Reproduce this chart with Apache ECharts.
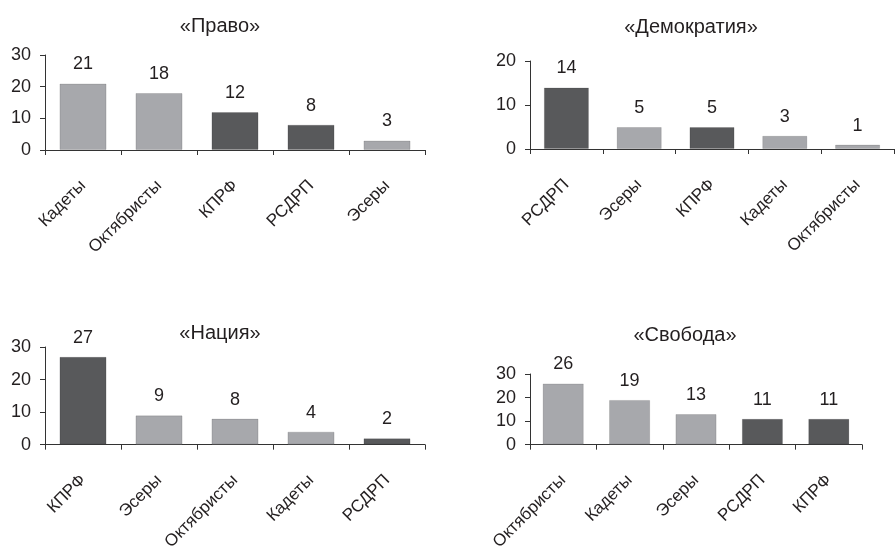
<!DOCTYPE html>
<html>
<head>
<meta charset="utf-8">
<script src="https://cdn.jsdelivr.net/npm/echarts@6/dist/echarts.min.js"></script>
<style>
html,body{margin:0;padding:0;background:#fff;}
#c{width:896px;height:553px;}
</style>
</head>
<body>
<div id="c"></div>
<script>
// Data
var titles = ['«Право»', '«Демократия»', '«Нация»', '«Свобода»'];
var pravoCats = ['Кадеты', 'Октябристы', 'КПРФ', 'РСДРП', 'Эсеры'];
var pravoVals = [21, 18, 12, 8, 3];
var demoCats = ['РСДРП', 'Эсеры', 'КПРФ', 'Кадеты', 'Октябристы'];
var demoVals = [14, 5, 5, 3, 1];
var naciyaCats = ['КПРФ', 'Эсеры', 'Октябристы', 'Кадеты', 'РСДРП'];
var naciyaVals = [27, 9, 8, 4, 2];
var svobodaCats = ['Октябристы', 'Кадеты', 'Эсеры', 'РСДРП', 'КПРФ'];
var svobodaVals = [26, 19, 13, 11, 11];
var darkParties = ['КПРФ', 'РСДРП'];
var yMax = [30, 20, 30, 30];

var FONT = 'Liberation Sans, Arial, sans-serif';
var LIGHT = '#a7a8ac', DARK = '#58595b';
var AXIS = '#333333';
var TEXT = '#231f20';

var grids = [
  {left: 45, top: 55, width: 380, height: 95},
  {left: 530, top: 61, width: 364, height: 88},
  {left: 45, top: 347, width: 380, height: 103},
  {left: 530, top: 374, width: 332, height: 78}
];
var titlePos = [
  {x: 215, y: 11},
  {x: 686, y: 12},
  {x: 215, y: 318},
  {x: 680, y: 320}
];
var cats = [pravoCats, demoCats, naciyaCats, svobodaCats];
var vals = [pravoVals, demoVals, naciyaVals, svobodaVals];

var chart = echarts.init(document.getElementById('c'));
var option = {
  animation: false,
  backgroundColor: '#fff',
  title: [], grid: [], xAxis: [], yAxis: [], series: []
};
for (var i = 0; i < 4; i++) {
  option.title.push({
    text: titles[i], left: titlePos[i].x, top: titlePos[i].y, textAlign: 'center',
    textStyle: {fontFamily: FONT, fontSize: 20, fontWeight: 'normal', color: TEXT}
  });
  option.grid.push(grids[i]);
  option.xAxis.push({
    type: 'category', gridIndex: i, data: cats[i],
    axisLine: {lineStyle: {color: AXIS, width: 1}},
    axisTick: {show: true, length: 5, lineStyle: {color: AXIS}},
    axisLabel: {rotate: 45, margin: 33, fontFamily: FONT, fontSize: 17, color: TEXT, interval: 0}
  });
  option.yAxis.push({
    type: 'value', gridIndex: i, min: 0, max: yMax[i], interval: 10,
    axisLine: {show: true, lineStyle: {color: AXIS, width: 1}},
    axisTick: {show: true, length: 5, lineStyle: {color: AXIS}},
    splitLine: {show: false},
    axisLabel: {margin: 14, fontFamily: FONT, fontSize: 18, color: TEXT}
  });
  (function (c) {
    option.series.push({
      type: 'bar', xAxisIndex: i, yAxisIndex: i, data: vals[i],
      barCategoryGap: '38%',
      itemStyle: {
        color: function (p) { return darkParties.indexOf(c[p.dataIndex]) >= 0 ? DARK : LIGHT; },
        borderColor: 'rgba(0,0,0,0.12)', borderWidth: 1
      },
      label: {show: true, position: 'top', distance: 10, fontFamily: FONT, fontSize: 18, color: TEXT}
    });
  })(cats[i]);
}
chart.setOption(option);
</script>
</body>
</html>
